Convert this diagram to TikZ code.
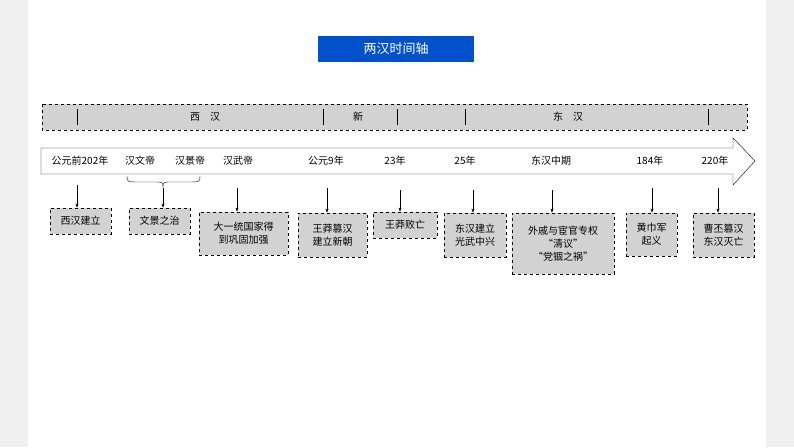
\documentclass[tikz,border=0pt]{standalone}
\usepackage{fontspec}
\usetikzlibrary{arrows.meta}
\setmainfont{Noto Sans CJK SC}
\begin{document}
\begin{tikzpicture}[x=1pt,y=-1pt,
 ev/.style={draw,dashed,fill=gray!35,thick,align=center,font=\fontsize{10}{13}\selectfont,inner sep=3pt},
 lab/.style={font=\fontsize{10}{12}\selectfont},
 ar/.style={-{Stealth[length=4pt]},thin}]
\useasboundingbox (0,0) rectangle (794,447);
\fill[gray!12] (0,0) rectangle (28,447);
\fill[gray!12] (766,0) rectangle (794,447);
\node[fill=blue!60!cyan!80!black,text=white,minimum width=156,minimum height=26,font=\fontsize{13}{15}\selectfont] (title) at (396,49) {两汉时间轴};
% period bar
\draw[dashed,fill=gray!35,thick] (42,104) rectangle (747,130);
\foreach \x in {77,323,397,465,708} \draw (\x,109) -- (\x,125);
\node[lab] (p1) at (205,117) {西\quad 汉};
\node[lab] (p2) at (358,117) {新};
\node[lab] (p3) at (568,117) {东\quad 汉};
% arrow
\draw[fill=white] (41,148) -- (733,148) -- (733,138) -- (755,161) -- (733,185) -- (733,174) -- (41,174) -- cycle;
\foreach \n/\x/\t in {a/80/公元前202年,b/140/汉文帝,c/190/汉景帝,d/238/汉武帝,e/326/公元9年,f/395/23年,g/465/25年,h/551/东汉中期,i/650/184年,j/715/220年}
  \node[lab] (\n) at (\x,161) {\t};
\draw (127,176) .. controls (127,182) .. (140,182) -- (155,182) .. controls (163,182) .. (163,188) .. controls (163,182) .. (171,182) -- (187,182) .. controls (200,182) .. (200,176);
\coordinate (br) at (163,188);
\node[ev,minimum width=61,minimum height=26] (A) at (80.5,221) {西汉建立};
\node[ev,minimum width=61,minimum height=26] (B) at (159.5,221) {文景之治};
\node[ev,minimum width=89,minimum height=43] (C) at (243.5,233.5) {大一统国家得\\到巩固加强};
\node[ev,minimum width=69,minimum height=44] (D) at (332.5,235) {王莽篡汉\\建立新朝};
\node[ev,minimum width=64,minimum height=26] (E) at (405,225) {王莽败亡};
\node[ev,minimum width=62,minimum height=44] (F) at (475,235) {东汉建立\\光武中兴};
\node[ev,minimum width=102,minimum height=61] (G) at (563,243.5) {外戚与宦官专权\\“清议”\\“党锢之祸”};
\node[ev,minimum width=51,minimum height=43] (H) at (651.5,234.5) {黄巾军\\起义};
\node[ev,minimum width=61,minimum height=44] (I) at (723.5,235) {曹丕篡汉\\东汉灭亡};
\coordinate (sa) at (77,185); \draw[ar] (sa) -- (A.north -| sa);
\draw[ar] (br) -- (B.north -| br);
\coordinate (sc) at (237,188); \draw[ar] (sc) -- (C.north -| sc);
\coordinate (sd) at (327,188); \draw[ar] (sd) -- (D.north -| sd);
\coordinate (se) at (400,190); \draw[ar] (se) -- (E.north -| se);
\coordinate (sf) at (473,190); \draw[ar] (sf) -- (F.north -| sf);
\coordinate (sg) at (552,190); \draw[ar] (sg) -- (G.north -| sg);
\coordinate (sh) at (652,188); \draw[ar] (sh) -- (H.north -| sh);
\coordinate (si) at (718,188); \draw[ar] (si) -- (I.north -| si);
\end{tikzpicture}
\end{document}
